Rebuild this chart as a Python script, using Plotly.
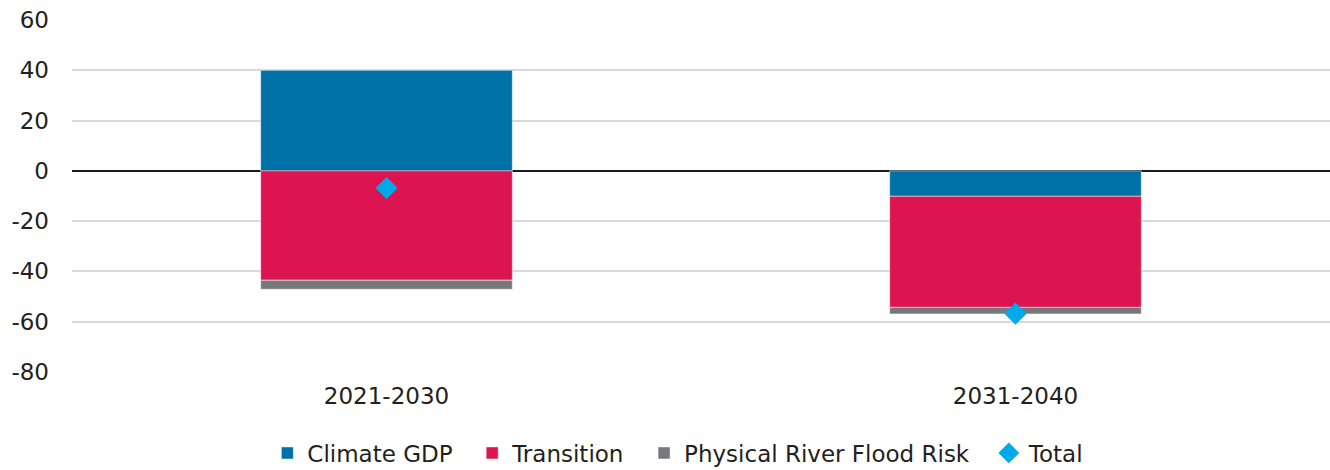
import plotly.graph_objects as go

periods = ["2021-2030", "2031-2040"]
climate_gdp = [40.0, -10.1]
transition = [-43.5, -44.2]
river_flood = [-3.6, -2.6]
total = [-6.8, -56.8]

y_ticks = [60, 40, 20, 0, -20, -40, -60, -80]

colors = {
    "Climate GDP": "#0071A7",
    "Transition": "#DC1551",
    "Physical River Flood Risk": "#78787C",
    "Total": "#00A9E9",
}

FONT = "DejaVu Sans, Lato, sans-serif"
PAD = "\u00a0\u00a0"  # extra room between legend entries

fig = go.Figure()
for name, vals in [("Climate GDP", climate_gdp),
                   ("Transition", transition),
                   ("Physical River Flood Risk", river_flood)]:
    fig.add_trace(go.Bar(
        x=periods, y=vals, name=name + PAD,
        marker=dict(color=colors[name], line=dict(color="rgba(255,255,255,0.6)", width=0.8)),
        width=0.4,
    ))

fig.add_trace(go.Scatter(
    x=periods, y=total, name="Total", mode="markers",
    marker=dict(symbol="diamond", size=17, color=colors["Total"]),
))

fig.update_layout(
    barmode="relative",
    width=1330, height=470,
    margin=dict(l=72, r=0, t=20, b=98, autoexpand=False),
    plot_bgcolor="white", paper_bgcolor="white",
    font=dict(family=FONT, size=23, color="#231F20"),
    showlegend=True,
    legend=dict(orientation="h", x=0.482, xanchor="center",
                yref="container", y=17 / 470, yanchor="middle",
                font=dict(size=23), itemwidth=30, traceorder="normal"),
)
fig.update_xaxes(showgrid=False, showline=False, ticks="", tickfont=dict(size=23),
                 range=[-0.5, 1.5], ticklabelstandoff=8)
fig.update_yaxes(range=[-80, 60], tickvals=y_ticks, ticktext=[str(v) for v in y_ticks],
                 showgrid=True, gridcolor="#D9D9D9", gridwidth=1.5,
                 zeroline=True, zerolinecolor="#1a1a1a", zerolinewidth=2,
                 tickfont=dict(size=23), ticklabelstandoff=22, showline=False)

fig.write_html("out.html")
